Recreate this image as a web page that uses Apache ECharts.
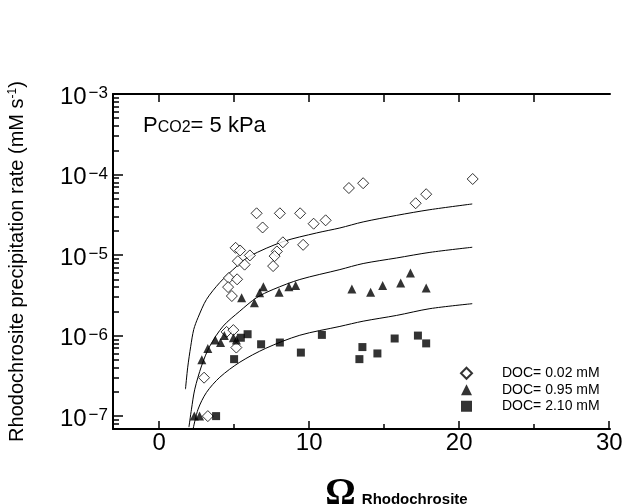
<!DOCTYPE html>
<html>
<head>
<meta charset="utf-8">
<script src="https://cdn.jsdelivr.net/npm/echarts@6/dist/echarts.min.js"></script>
<style>
  html, body { margin: 0; padding: 0; background: #fff; }
  #chart { width: 644px; height: 504px; }
</style>
</head>
<body>
<div id="chart"></div>
<script>
// ---- Data ([Omega, rate in mM/s]) ----
const seriesNames = ['DOC= 0.02 mM', 'DOC= 0.95 mM', 'DOC= 2.10 mM'];

const doc002 = [
  [6.5, 3.3e-5], [8.05, 3.3e-5], [9.4, 3.3e-5], [6.9, 2.2e-5], [10.3, 2.45e-5], [11.1, 2.7e-5],
  [5.1, 1.23e-5], [5.4, 1.14e-5], [6.05, 9.9e-6], [5.25, 8.4e-6], [5.7, 7.6e-6], [8.25, 1.44e-5],
  [7.85, 1.11e-5], [7.7, 9.7e-6], [7.6, 7.3e-6], [9.6, 1.34e-5], [4.65, 5.2e-6], [5.2, 5.0e-6],
  [4.6, 4.0e-6], [4.85, 3.1e-6], [4.5, 1.11e-6], [4.95, 1.17e-6], [5.15, 7.1e-7], [3.0, 3.0e-7],
  [3.25, 1.0e-7], [12.65, 6.8e-5], [13.6, 7.8e-5], [17.1, 4.4e-5], [17.8, 5.7e-5], [20.9, 8.8e-5]
];
const doc095 = [
  [5.5, 2.95e-6], [6.95, 4.05e-6], [6.7, 3.4e-6], [6.35, 2.55e-6], [8.0, 3.45e-6], [8.65, 4.05e-6],
  [9.1, 4.2e-6], [2.85, 5.0e-7], [3.25, 6.9e-7], [3.75, 8.8e-7], [4.1, 8.2e-7], [4.35, 1.0e-6],
  [4.95, 9.4e-7], [5.15, 8.8e-7], [2.35, 1.0e-7], [2.7, 1.0e-7], [12.85, 3.8e-6], [14.1, 3.45e-6],
  [14.9, 4.2e-6], [16.1, 4.5e-6], [16.75, 6.0e-6], [17.8, 3.9e-6]
];
const doc210 = [
  [5.9, 1.04e-6], [5.45, 9.4e-7], [6.8, 7.8e-7], [8.05, 8.2e-7], [9.45, 6.15e-7], [5.0, 5.1e-7],
  [10.85, 1.02e-6], [3.8, 1.0e-7], [13.55, 7.2e-7], [13.35, 5.1e-7], [14.55, 6.0e-7], [15.7, 9.2e-7],
  [17.25, 1.0e-6], [17.8, 8.0e-7]
];
// fitted curves as drawn in the picture
const curve002 = [
  [1.76, 2.16e-7], [1.91, 4.05e-7], [2.11, 7.36e-7], [2.31, 1.19e-6], [2.6, 1.68e-6], [3.16, 2.81e-6],
  [4.05, 4.56e-6], [5.16, 7.2e-6], [6.05, 9.7e-6], [8.27, 1.47e-5], [10.49, 1.88e-5], [12.05, 2.17e-5],
  [13.6, 2.58e-5], [15.83, 3.11e-5], [18.05, 3.66e-5], [20.87, 4.31e-5]
];
const curve095 = [
  [1.99, 7.3e-8], [2.16, 1.22e-7], [2.38, 2.16e-7], [2.83, 4.2e-7], [3.38, 7.4e-7], [4.27, 1.31e-6],
  [5.38, 2.01e-6], [6.49, 2.95e-6], [7.6, 3.74e-6], [9.38, 4.97e-6], [12.05, 6.6e-6], [13.6, 7.85e-6],
  [15.83, 9.2e-6], [18.05, 1.08e-5], [20.87, 1.25e-5]
];
const curve210 = [
  [2.27, 6.95e-8], [2.6, 1.22e-7], [3.16, 1.97e-7], [4.05, 3.04e-7], [5.38, 4.67e-7], [7.11, 6.95e-7],
  [9.38, 1.01e-6], [12.05, 1.3e-6], [13.6, 1.51e-6], [15.83, 1.78e-6], [18.05, 2.16e-6], [20.87, 2.49e-6]
];

const xTickLabels = [0, 10, 20, 30];
const xMinorTicks = [5, 15, 25];
const xTopTicks = [0, 5, 10, 15, 20, 25];
const yDecades = [-7, -6, -5, -4, -3];   // exponents of 10

// ---- helpers ----
const toLog = arr => arr.map(p => [p[0], Math.log10(p[1])]);
const yMinor = [];
for (let n = -8; n <= -4; n++) {
  for (let k = 2; k <= 9; k++) {
    const v = Math.log10(k) + n;
    if (v >= -7.16 && v <= -3) yMinor.push(v);
  }
}
const FONT = '"Liberation Sans", Arial, Helvetica, sans-serif';
const X_MIN = -3.07, X_MAX = 30.05, Y_MIN = -7.16, Y_MAX = -3;

const chart = echarts.init(document.getElementById('chart'), null, { renderer: 'canvas' });
const axisLineStyle = { color: '#000', width: 2 };

chart.setOption({
  animation: false,
  backgroundColor: '#fff',
  grid: { left: 113, right: 34, top: 94, bottom: 75, containLabel: false, outerBoundsMode: 'none' },
  xAxis: [
    {
      type: 'value', position: 'bottom', min: X_MIN, max: X_MAX,
      axisLine: { show: true, onZero: false, lineStyle: axisLineStyle },
      axisTick: { show: true, inside: true, length: 8, customValues: xTickLabels, lineStyle: { color: '#000', width: 1.5 } },
      axisLabel: { show: true, customValues: xTickLabels, fontSize: 24, color: '#000', fontFamily: FONT, margin: 2 },
      splitLine: { show: false },
      name: '{o|Ω}{r|Rhodochrosite}',
      nameLocation: 'middle',
      nameGap: 46,
      nameTextStyle: {
        padding: [0, 0, 0, 70],
        rich: {
          o: { fontSize: 38, fontWeight: 'bold', fontFamily: '"Liberation Serif", "Times New Roman", serif', color: '#000', verticalAlign: 'bottom' },
          r: { fontSize: 15, fontWeight: 'bold', fontFamily: FONT, color: '#000', verticalAlign: 'bottom', padding: [0, 0, 6, 6] }
        }
      }
    },
    {
      type: 'value', position: 'bottom', min: X_MIN, max: X_MAX,
      axisLine: { show: false, onZero: false },
      axisTick: { show: true, inside: true, length: 5, customValues: xMinorTicks, lineStyle: { color: '#000', width: 1.5 } },
      axisLabel: { show: false },
      splitLine: { show: false }
    },
    {
      type: 'value', position: 'top', min: X_MIN, max: X_MAX,
      axisLine: { show: true, onZero: false, lineStyle: axisLineStyle },
      axisTick: { show: true, inside: true, length: 8, customValues: xTopTicks, lineStyle: { color: '#000', width: 1.5 } },
      axisLabel: { show: false },
      splitLine: { show: false }
    }
  ],
  yAxis: [
    {
      type: 'value', position: 'left', min: Y_MIN, max: Y_MAX,
      axisLine: { show: true, onZero: false, lineStyle: axisLineStyle },
      axisTick: { show: true, inside: true, length: 10, customValues: yDecades, lineStyle: { color: '#000', width: 1.5 } },
      axisLabel: {
        show: true, customValues: yDecades, margin: 5, color: '#000',
        padding: [6, 0, 0, 0],
        formatter: v => '{b|10}{s|\u2212' + Math.round(-v) + '}',
        rich: {
          b: { fontSize: 24, fontFamily: FONT, color: '#000', lineHeight: 24 },
          s: { fontSize: 17, fontFamily: FONT, color: '#000', verticalAlign: 'top', lineHeight: 17, padding: [0, 0, 0, 2] }
        }
      },
      splitLine: { show: false },
      name: 'Rhodochrosite precipitation rate (mM s{sup|-1})',
      nameLocation: 'middle',
      nameRotate: 90,
      nameGap: 86,
      nameTextStyle: {
        fontSize: 20, fontFamily: FONT, color: '#000',
        rich: {
          sup: { fontSize: 12, fontFamily: FONT, color: '#000', verticalAlign: 'top', lineHeight: 12 }
        }
      }
    },
    {
      type: 'value', position: 'left', min: Y_MIN, max: Y_MAX,
      axisLine: { show: false, onZero: false },
      axisTick: { show: true, inside: true, length: 6, customValues: yMinor, lineStyle: { color: '#000', width: 1.5 } },
      axisLabel: { show: false },
      splitLine: { show: false }
    }
  ],
  legend: {
    data: seriesNames,
    orient: 'vertical',
    left: 455,
    top: 360,
    itemWidth: 11,
    itemHeight: 11,
    itemGap: 0,
    selectedMode: false,
    textStyle: { fontSize: 14, fontFamily: FONT, color: '#000', lineHeight: 16.5, padding: [0, 0, 0, 25] }
  },
  graphic: [
    {
      type: 'text', left: 143, top: 115,
      style: {
        text: '{p|P}{c|CO2}{p|= 5 kPa}',
        rich: {
          p: { fontSize: 22, fontFamily: FONT, fill: '#000', verticalAlign: 'bottom' },
          c: { fontSize: 16, fontFamily: FONT, fill: '#000', verticalAlign: 'bottom', padding: [0, 0, 1, 0] }
        }
      }
    }
  ],
  series: [
    {
      name: 'curve 0.02', type: 'line', data: toLog(curve002), smooth: 0.3, showSymbol: false, silent: true,
      lineStyle: { color: '#000', width: 1 }, z: 1
    },
    {
      name: 'curve 0.95', type: 'line', data: toLog(curve095), smooth: 0.3, showSymbol: false, silent: true,
      lineStyle: { color: '#000', width: 1 }, z: 1
    },
    {
      name: 'curve 2.10', type: 'line', data: toLog(curve210), smooth: 0.3, showSymbol: false, silent: true,
      lineStyle: { color: '#000', width: 1 }, z: 1
    },
    {
      name: seriesNames[0], type: 'scatter', data: toLog(doc002), symbol: 'diamond', symbolSize: [11, 11],
      itemStyle: { color: '#fff', borderColor: '#000', borderWidth: 1 }, z: 3
    },
    {
      name: seriesNames[1], type: 'scatter', data: toLog(doc095), symbol: 'triangle', symbolSize: [9, 9],
      itemStyle: { color: '#000' }, z: 3
    },
    {
      name: seriesNames[2], type: 'scatter', data: toLog(doc210), symbol: 'rect', symbolSize: [8, 8],
      itemStyle: { color: '#000' }, z: 3
    }
  ]
});
</script>
</body>
</html>
